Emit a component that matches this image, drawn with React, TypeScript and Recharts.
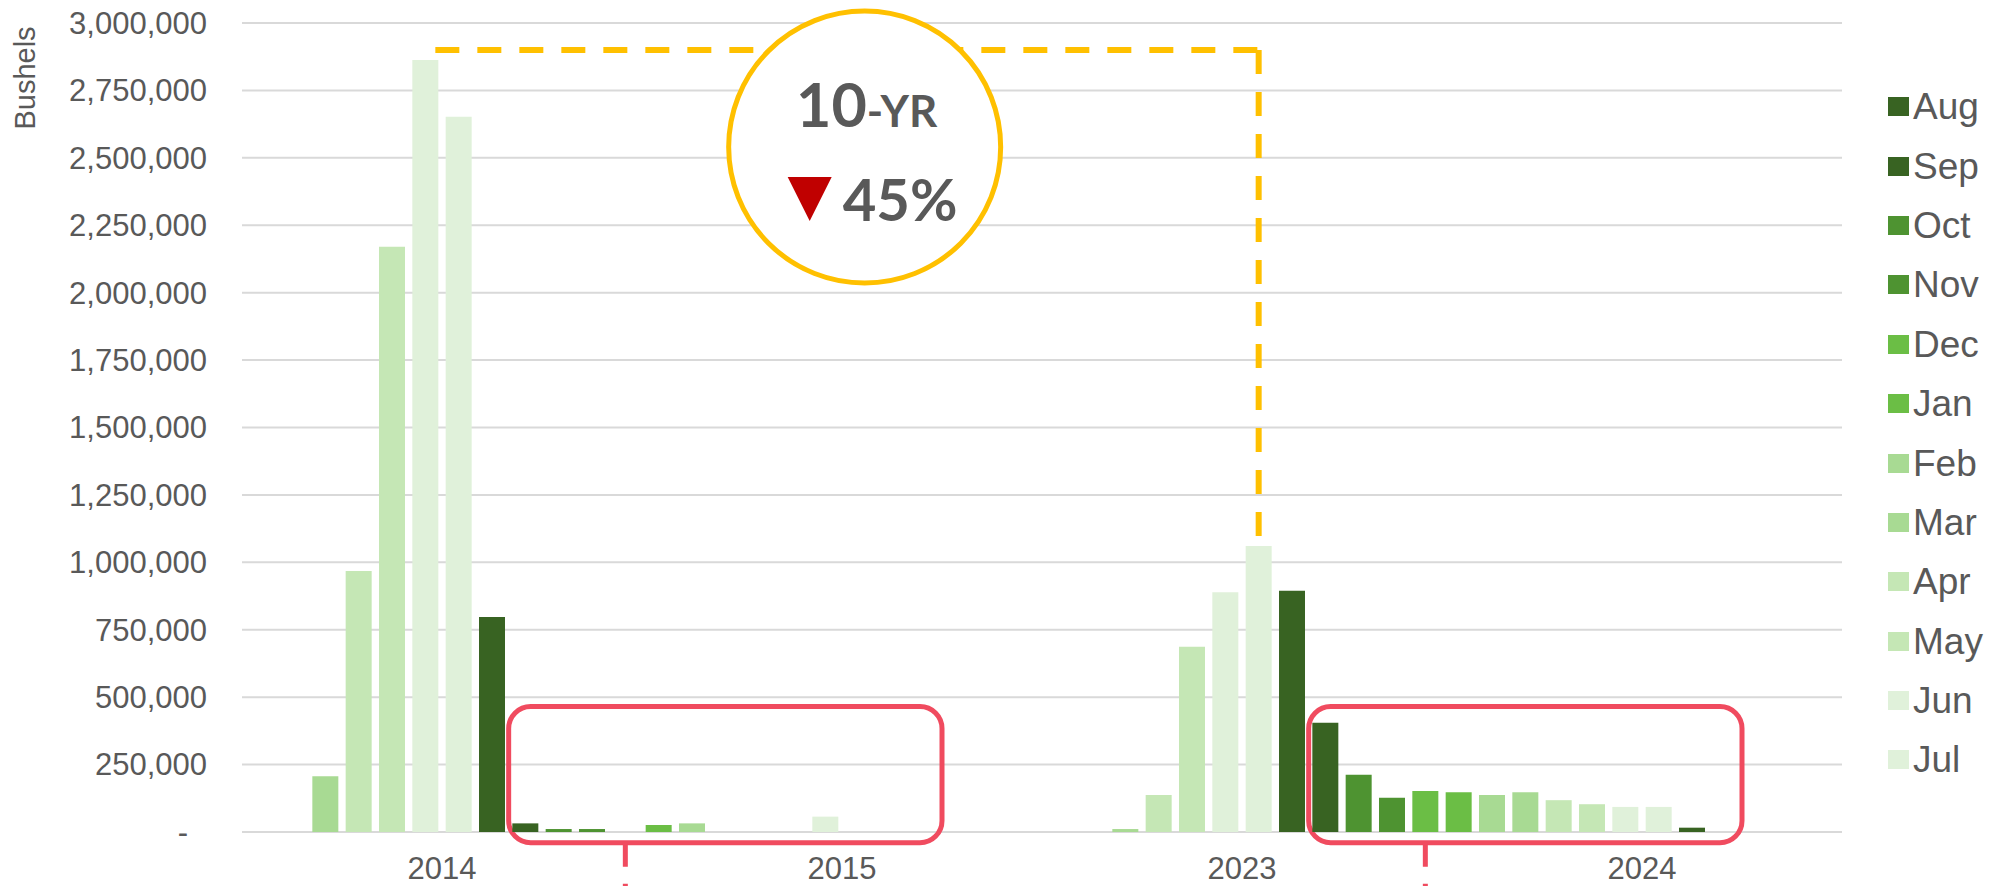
import React from 'react';
import {
  BarChart,
  Bar,
  XAxis,
  YAxis,
  CartesianGrid,
  Legend,
  ReferenceArea,
  ReferenceLine,
  ReferenceDot,
} from 'recharts';

const years = ['2014', '2015', '2023', '2024'];
const calendarMonths = ['Jan', 'Feb', 'Mar', 'Apr', 'May', 'Jun', 'Jul', 'Aug', 'Sep', 'Oct', 'Nov', 'Dec'];
// series order as shown in the legend (crop year Aug - Jul)
const legendMonths = ['Aug', 'Sep', 'Oct', 'Nov', 'Dec', 'Jan', 'Feb', 'Mar', 'Apr', 'May', 'Jun', 'Jul'];
const monthColors = [
  '#386322', '#386322', '#4e9331', '#4e9331', '#6bbe45', '#6bbe45',
  '#a8da93', '#a8da93', '#c5e7b5', '#c5e7b5', '#e0f1da', '#e0f1da',
];

// bushels per calendar month, Jan..Dec
const bushels2014 = [0, 0, 207000, 968000, 2170000, 2863000, 2652000, 797000, 32000, 11000, 11000, 0];
const bushels2015 = [26000, 32000, 0, 0, 0, 57000, 0, 0, 0, 0, 0, 0];
const bushels2023 = [0, 0, 11000, 137000, 687000, 889000, 1061000, 895000, 405000, 212000, 127000, 152000];
const bushels2024 = [147000, 137000, 147000, 118000, 103000, 93000, 93000, 16000, 0, 0, 0, 0];
const yearValues = [bushels2014, bushels2015, bushels2023, bushels2024];

const yTicks = [0, 250000, 500000, 750000, 1000000, 1250000, 1500000, 1750000, 2000000, 2250000, 2500000, 2750000, 3000000];

// annotation values
const tenYearLevel = 2900000;
const tenYearFrom = 'Jun 2014';
const tenYearTo = 'Jul 2023';
const tenYearEnd = 1080000;
const badgeAt = { x: 'Jul 2015', y: 2540000 };
const boxes = [
  { x1: 'Sep 2014', x2: 'Sep 2015', pin: 'Dec 2014' },
  { x1: 'Sep 2023', x2: 'Sep 2024', pin: 'Dec 2023' },
];
const boxTop = 465000;
const boxBottom = -40000;
const pinBottom = -260000;

const data = years.flatMap((year, yi) =>
  calendarMonths.map((m, mi) => ({ key: `${m} ${year}`, year, [m]: yearValues[yi][mi] }))
);

const textColor = '#595959';
const gold = '#FFC000';
const red = '#F04B5F';
const axisFont = 'Liberation Sans, Arial, sans-serif';

const YTick = ({ x, y, payload }: any) => (
  <text
    x={payload.value === 0 ? x - 19 : x}
    y={y}
    dy="0.35em"
    textAnchor="end"
    fontSize={31}
    fill={textColor}
    fontFamily={axisFont}
  >
    {payload.value === 0 ? '-' : payload.value.toLocaleString('en-US')}
  </text>
);

const BushelsLabel = ({ viewBox }: any) => {
  const cx = viewBox.x + 25;
  const cy = viewBox.y + 55;
  return (
    <text
      x={cx}
      y={cy}
      transform={`rotate(-90 ${cx} ${cy})`}
      textAnchor="middle"
      dy="0.35em"
      fontSize={29}
      fill={textColor}
      fontFamily={axisFont}
    >
      Bushels
    </text>
  );
};

const RoundBox = ({ x, y, width, height }: any) => (
  <rect x={x} y={y} width={width} height={height} rx={22} ry={22} fill="none" stroke={red} strokeWidth={5} />
);

const Badge = ({ cx: px, cy }: any) => {
  const cx = px + 6;
  return (
    <g>
      <circle cx={cx} cy={cy} r={136} fill="#ffffff" stroke={gold} strokeWidth={5} />
      <text x={cx + 2} y={cy - 20} textAnchor="middle" fontFamily="Lato, sans-serif" fontWeight={700} fill={textColor}>
        <tspan fontSize={61}>10</tspan>
        <tspan fontSize={44}>-YR</tspan>
      </text>
      <polygon points={`${cx - 77},${cy + 30} ${cx - 33},${cy + 30} ${cx - 55},${cy + 74}`} fill="#C00000" />
      <text x={cx - 22} y={cy + 74} fontSize={58} fontFamily="Lato, sans-serif" fontWeight={700} fill={textColor}>
        45%
      </text>
    </g>
  );
};

const MonthLegend = ({ payload }: any) => {
  const items = [...(payload || [])].sort(
    (a: any, b: any) => legendMonths.indexOf(a.value) - legendMonths.indexOf(b.value)
  );
  return (
    <div style={{ width: 158, paddingLeft: 46, boxSizing: 'border-box', fontFamily: axisFont }}>
      {items.map((p: any) => (
        <div key={p.value} style={{ height: 59.4, display: 'flex', alignItems: 'center' }}>
          <span style={{ width: 21, height: 19, background: p.color, marginRight: 4, flexShrink: 0 }} />
          <span style={{ fontSize: 37, color: textColor, lineHeight: 1 }}>{p.value}</span>
        </div>
      ))}
    </div>
  );
};

export default function App() {
  return (
    <div style={{ position: 'absolute', left: 0, top: 0, background: '#fff' }}>
      <BarChart
        width={2000}
        height={886}
        data={data}
        margin={{ top: 23, right: 0, bottom: 0, left: 0 }}
        barCategoryGap="11%"
      >
        <CartesianGrid vertical={false} stroke="#d9d9d9" strokeWidth={2} />
        <XAxis dataKey="key" hide height={0} />
        <XAxis
          xAxisId="year"
          dataKey="year"
          allowDuplicatedCategory={false}
          axisLine={false}
          tickLine={false}
          tickSize={0}
          tickMargin={25}
          height={54}
          tick={{ fontSize: 31, fill: textColor, fontFamily: axisFont }}
        />
        <YAxis
          width={242}
          domain={[0, 3000000]}
          ticks={yTicks}
          axisLine={false}
          tickLine={false}
          tickSize={0}
          tickMargin={35}
          tick={<YTick />}
          label={{ content: BushelsLabel }}
        />
        <Legend
          layout="vertical"
          align="right"
          verticalAlign="top"
          wrapperStyle={{ top: 77 }}
          content={MonthLegend}
        />
        {legendMonths.map((m, i) => (
          <Bar key={m} dataKey={m} name={m} stackId="month" fill={monthColors[i]} isAnimationActive={false} />
        ))}
        {boxes.map((b) => (
          <ReferenceArea
            key={b.x1}
            x1={b.x1}
            x2={b.x2}
            y1={boxBottom}
            y2={boxTop}
            ifOverflow="visible"
            shape={RoundBox}
          />
        ))}
        {boxes.map((b) => (
          <ReferenceLine
            key={b.pin}
            segment={[{ x: b.pin, y: boxBottom }, { x: b.pin, y: pinBottom }]}
            stroke={red}
            strokeWidth={5}
            strokeDasharray="24 17 200"
            ifOverflow="visible"
          />
        ))}
        <ReferenceLine
          segment={[{ x: tenYearFrom, y: tenYearLevel }, { x: tenYearTo, y: tenYearLevel }]}
          stroke={gold}
          strokeWidth={6}
          strokeDasharray="24 18"
          strokeDashoffset={32}
          ifOverflow="visible"
        />
        <ReferenceLine
          segment={[{ x: tenYearTo, y: tenYearLevel }, { x: tenYearTo, y: tenYearEnd }]}
          stroke={gold}
          strokeWidth={6}
          strokeDasharray="24 18"
          ifOverflow="visible"
        />
        <ReferenceDot x={badgeAt.x} y={badgeAt.y} r={136} ifOverflow="visible" shape={Badge} />
      </BarChart>
    </div>
  );
}
